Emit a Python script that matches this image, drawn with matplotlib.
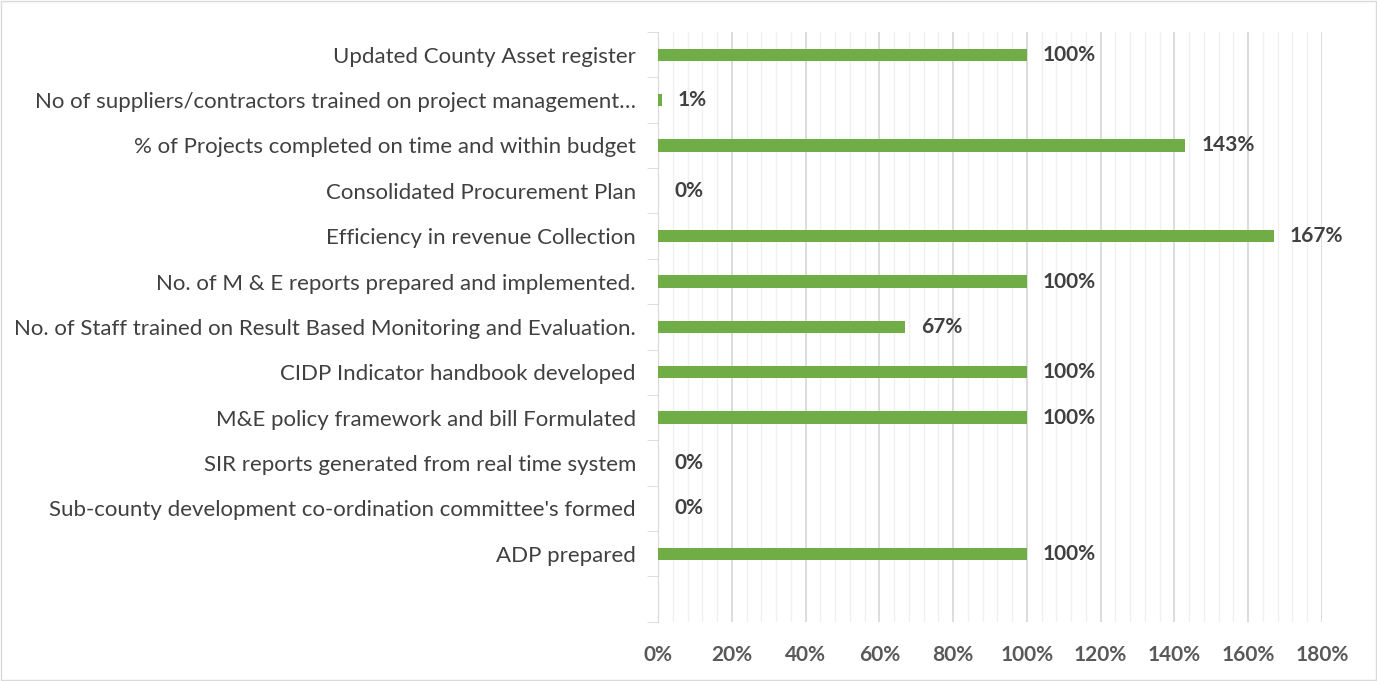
import matplotlib.pyplot as plt
import numpy as np
from matplotlib.ticker import MultipleLocator

categories = [
    "Updated County Asset register",
    "No of suppliers/contractors trained on project management\u2026",
    "% of Projects completed on time and within budget",
    "Consolidated Procurement Plan",
    "Efficiency in revenue Collection",
    "No. of M & E reports prepared and implemented.",
    "No. of Staff trained on Result Based Monitoring and Evaluation.",
    "CIDP Indicator handbook developed",
    "M&E policy framework and bill Formulated",
    "SIR reports generated from real time system",
    "Sub-county development co-ordination committee's formed",
    "ADP prepared",
]
values = [1.00, 0.01, 1.43, 0.00, 1.67, 1.00, 0.67, 1.00, 1.00, 0.00, 0.00, 1.00]
labels = ["100%", "1%", "143%", "0%", "167%", "100%", "67%", "100%", "100%", "0%", "0%", "100%"]
xticks = [0, 0.2, 0.4, 0.6, 0.8, 1.0, 1.2, 1.4, 1.6, 1.8]
xticklabels = ["0%", "20%", "40%", "60%", "80%", "100%", "120%", "140%", "160%", "180%"]

plt.rcParams['font.family'] = ['Lato', 'DejaVu Sans']
fig = plt.figure(figsize=(13.77, 6.81), dpi=100)
ax = fig.add_axes([0.478, 0.087, 0.482, 0.866])

y = np.arange(len(categories))
ax.barh(y, values, height=0.27, color='#70ad47', zorder=3)
for yi, v, lab in zip(y, values, labels):
    ax.annotate(lab, (v, yi), xytext=(16, 0), textcoords='offset pixels',
                va='center', ha='left', fontsize=15, fontweight='bold', color='#404040')

ax.set_xlim(0, 1.8)
ax.set_ylim(12.5, -0.5)
ax.tick_params(axis='y', which='major', length=0, pad=16)
ax.tick_params(axis='y', which='minor', length=8, color='#d9d9d9')
ax.tick_params(axis='x', which='both', length=0, pad=17)

ax.set_xticks(xticks)
ax.set_xticklabels(xticklabels)
ax.xaxis.set_minor_locator(MultipleLocator(0.04))
for t in ax.get_xticklabels():
    t.set_fontweight('bold')
    t.set_fontsize(15)
    t.set_color('#595959')
ax.grid(axis='x', which='major', color='#d9d9d9', linewidth=1.3, zorder=0)
ax.grid(axis='x', which='minor', color='#f0f0f0', linewidth=1.0, zorder=0)

ax.set_yticks(y)
ax.set_yticklabels(categories, fontsize=16, color='#404040')
ax.set_yticks(np.arange(-0.5, 13, 1), minor=True)

for s in ['top', 'right', 'bottom']:
    ax.spines[s].set_visible(False)
ax.spines['left'].set_color('#d9d9d9')

fig.patches.append(plt.Rectangle((0.001, 0.001), 0.998, 0.997, transform=fig.transFigure,
                                 fill=False, edgecolor='#d9d9d9', linewidth=1))
fig.savefig('out.png', dpi=100)
